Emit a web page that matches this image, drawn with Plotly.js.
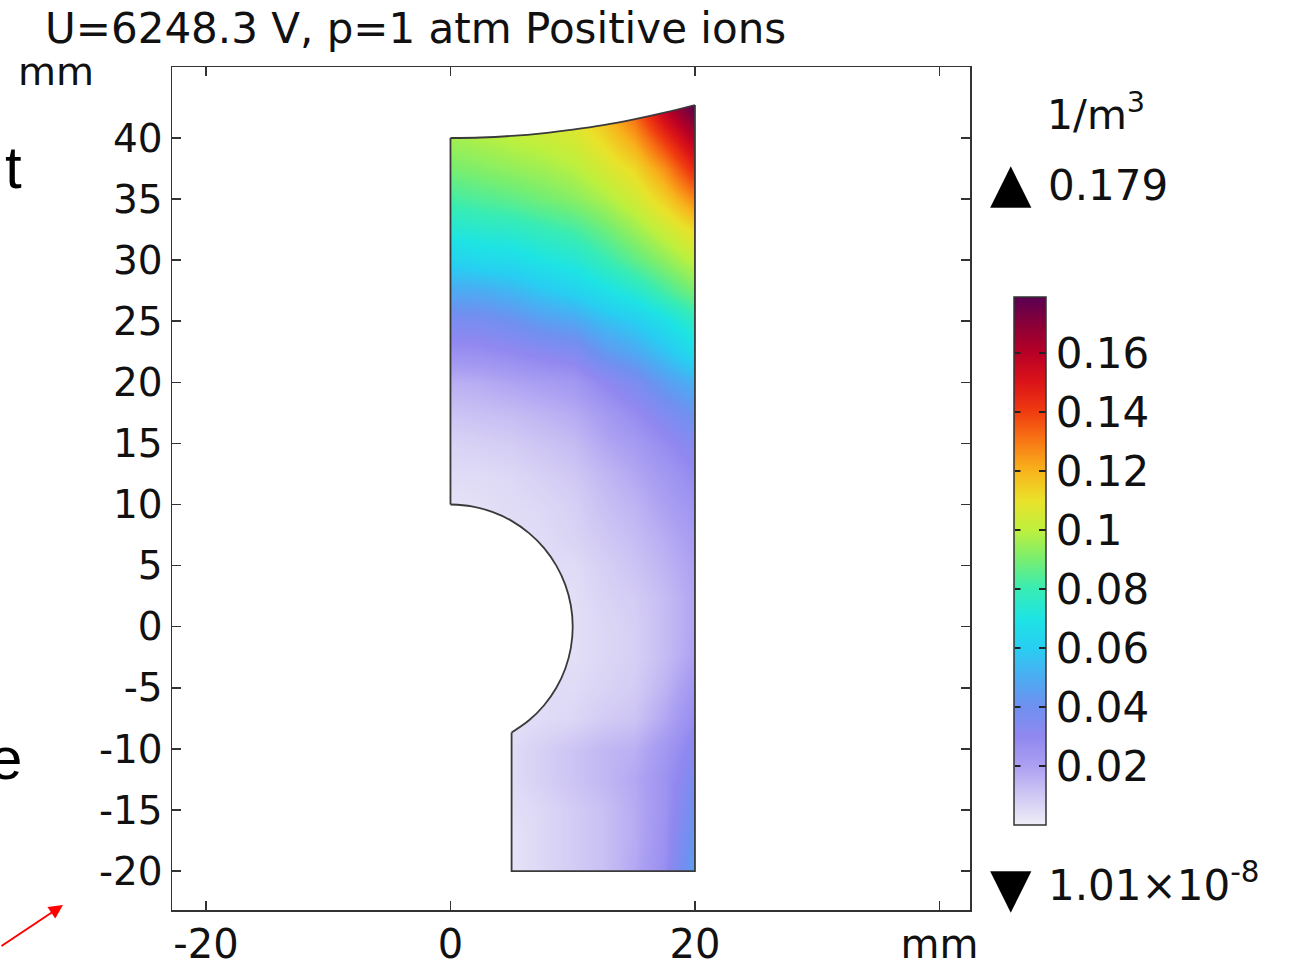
<!DOCTYPE html>
<html><head><meta charset="utf-8">
<script src="https://cdn.plot.ly/plotly-3.0.1.min.js"></script>
<style>html,body{margin:0;padding:0;background:#fff;}#chart{width:1297px;height:966px;}</style>
</head><body><div id="chart"></div>
<script>
// ---- data ----
const gridX = [0, 2.5, 5, 7.5, 10, 12.5, 15, 17.5, 20];
const gridY = [-20, -17.5, -15, -12.5, -10, -7.5, -5, -2.5, 0, 2.5, 5, 7.5, 10, 12.5, 15, 17.5, 20, 22.5, 25, 27.5, 30, 32.5, 35, 37.5, 40, 42.5];
const density = [
  [0.003, 0.003, 0.003, 0.006, 0.009, 0.012, 0.018, 0.027, 0.047],
  [0.003, 0.003, 0.003, 0.006, 0.009, 0.012, 0.017, 0.026, 0.044],
  [0.004, 0.004, 0.004, 0.006, 0.009, 0.012, 0.017, 0.025, 0.041],
  [0.005, 0.005, 0.005, 0.008, 0.011, 0.014, 0.018, 0.025, 0.037],
  [0.005, 0.005, 0.005, 0.008, 0.011, 0.014, 0.016, 0.023, 0.033],
  [0.004, 0.004, 0.004, 0.005, 0.006, 0.009, 0.011, 0.018, 0.028],
  [0.004, 0.004, 0.004, 0.005, 0.005, 0.007, 0.009, 0.015, 0.024],
  [0.004, 0.004, 0.004, 0.005, 0.004, 0.006, 0.008, 0.013, 0.020],
  [0.004, 0.004, 0.004, 0.005, 0.004, 0.006, 0.008, 0.013, 0.019],
  [0.004, 0.004, 0.004, 0.005, 0.004, 0.007, 0.009, 0.013, 0.019],
  [0.004, 0.004, 0.004, 0.005, 0.005, 0.008, 0.011, 0.015, 0.020],
  [0.004, 0.004, 0.004, 0.005, 0.007, 0.010, 0.013, 0.017, 0.022],
  [0.003, 0.004, 0.005, 0.006, 0.008, 0.012, 0.015, 0.020, 0.025],
  [0.005, 0.005, 0.006, 0.008, 0.010, 0.014, 0.018, 0.023, 0.029],
  [0.007, 0.008, 0.009, 0.011, 0.013, 0.018, 0.022, 0.028, 0.034],
  [0.011, 0.012, 0.013, 0.015, 0.017, 0.022, 0.028, 0.035, 0.042],
  [0.016, 0.017, 0.019, 0.021, 0.023, 0.030, 0.036, 0.045, 0.052],
  [0.026, 0.027, 0.029, 0.032, 0.034, 0.043, 0.049, 0.057, 0.067],
  [0.036, 0.037, 0.040, 0.045, 0.048, 0.055, 0.060, 0.068, 0.077],
  [0.049, 0.050, 0.053, 0.058, 0.062, 0.068, 0.074, 0.082, 0.090],
  [0.062, 0.065, 0.066, 0.070, 0.073, 0.079, 0.086, 0.093, 0.101],
  [0.073, 0.075, 0.076, 0.079, 0.082, 0.088, 0.095, 0.103, 0.112],
  [0.082, 0.084, 0.086, 0.089, 0.092, 0.097, 0.104, 0.114, 0.128],
  [0.090, 0.092, 0.094, 0.096, 0.099, 0.105, 0.112, 0.126, 0.146],
  [0.096, 0.098, 0.100, 0.102, 0.105, 0.112, 0.123, 0.142, 0.162],
  [0.098, 0.100, 0.102, 0.105, 0.110, 0.120, 0.135, 0.160, 0.179]
];
// geometry outline (mm)
const boundaryX = [0, 0, 2.5, 5, 7.5, 10, 12.5, 15, 17.5, 20, 20, 5, 5, 6.428, 7.660, 8.660, 9.397, 9.848, 10, 9.848, 9.397, 8.660, 7.660, 6.428, 5.000, 3.420, 1.736, 0];
const boundaryY = [10, 40, 40.04, 40.17, 40.38, 40.68, 41.05, 41.52, 42.07, 42.7, -20, -20, -8.660, -7.660, -6.428, -5.000, -3.420, -1.736, 0, 1.736, 3.420, 5.000, 6.428, 7.660, 8.660, 9.397, 9.848, 10];
// outline pieces: [start index, end index, curved?]
const outlinePieces = [[0, 1, false], [1, 9, true], [9, 12, false], [12, 27, true]];
const colorValues = [0, 0.01, 0.02, 0.03, 0.04, 0.05, 0.06, 0.07, 0.08, 0.09, 0.10, 0.11, 0.12, 0.13, 0.14, 0.15, 0.16, 0.17, 0.179];
const colorHex = ['#f0eef8', '#d0c8f4', '#aca0f2', '#9088f0', '#7090f0', '#4cacf2', '#28cef2', '#1ee4e4', '#38ecb4', '#78ee70', '#bef03e', '#eae22a', '#f8b41c', '#f87814', '#f03c10', '#dc1418', '#b80026', '#880038', '#5a0052'];
const zMin = 0, zMax = 0.179;
const maxLabel = '0.179';
const minLabel = '1.01×10<sup>-8</sup>';
const unitLabel = '1/m<sup>3</sup>';
const titleText = 'U=6248.3 V, p=1 atm Positive ions';
const xTickVals = [-20, 0, 20, 40];
const xTickText = ['-20', '0', '20', 'mm'];
const yTickVals = [-20, -15, -10, -5, 0, 5, 10, 15, 20, 25, 30, 35, 40];
const yTickText = ['-20', '-15', '-10', '-5', '0', '5', '10', '15', '20', '25', '30', '35', '40'];
const cbTickVals = [0.02, 0.04, 0.06, 0.08, 0.10, 0.12, 0.14, 0.16];
const cbTickText = ['0.02', '0.04', '0.06', '0.08', '0.1', '0.12', '0.14', '0.16'];

// ---- build ----
const W = 1297, H = 966;
const M = {l: 172, r: 327, t: 67, b: 56};
const pw = W - M.l - M.r, ph = H - M.t - M.b;
const px2x = p => (p - M.l) / pw;
const py2y = p => (H - M.b - p) / ph;

const colorscale = colorValues.map((v, i) => [v / zMax, colorHex[i]]);

// white mask around the domain: outer rectangle with the domain as a hole
const xL = gridX[0] - 2, xR = gridX[gridX.length - 1] + 2;
const yB = gridY[0] - 2, yT = gridY[gridY.length - 1] + 2;
const maskX = [xL, xL, xR, xR, xL, xL].concat(boundaryX, [xL]);
const maskY = [boundaryY[0], yB, yB, yT, yT, boundaryY[0]].concat(boundaryY, [boundaryY[0]]);

const FONT = 'DejaVu Sans, sans-serif';

// colorbar geometry (pixels)
const cbLeft = 1014, cbBottom = 825, cbThick = 32, cbLen = 528;

const traces = [
  {
    type: 'heatmap', x: gridX, y: gridY, z: density, zsmooth: 'best',
    zmin: zMin, zmax: zMax, colorscale: colorscale, hoverinfo: 'skip',
    colorbar: {
      thickness: cbThick, thicknessmode: 'pixels', len: cbLen, lenmode: 'pixels',
      xref: 'paper', x: px2x(cbLeft), xanchor: 'left', xpad: 0,
      yref: 'paper', y: py2y(cbBottom), yanchor: 'bottom', ypad: 0,
      outlinewidth: 1.5, outlinecolor: '#333',
      ticks: 'inside', ticklen: 7, tickwidth: 2, tickcolor: '#222',
      tickvals: cbTickVals, ticktext: cbTickText,
      tickfont: {family: FONT, size: 42, color: '#111'}
    }
  },
  {
    type: 'scatter', mode: 'lines', x: maskX, y: maskY, fill: 'toself',
    fillcolor: '#ffffff', line: {width: 0, color: 'rgba(0,0,0,0)'},
    hoverinfo: 'skip', showlegend: false
  }
];
outlinePieces.forEach(([a, b, curved]) => {
  traces.push({
    type: 'scatter', mode: 'lines',
    x: boundaryX.slice(a, b + 1), y: boundaryY.slice(a, b + 1),
    line: {color: '#3a3a3a', width: 1.8, shape: curved ? 'spline' : 'linear'},
    hoverinfo: 'skip', showlegend: false
  });
});

// tick marks on the left edge of the colour bar (mirror of the right-side ticks)
const cbTickMarks = cbTickVals.map(v => {
  const yy = py2y(cbBottom) + (v - zMin) / (zMax - zMin) * (cbLen / ph);
  return {xref: 'paper', yref: 'paper', x: px2x(cbLeft + 1), y: yy, text: '',
    showarrow: true, arrowhead: 0, arrowwidth: 2, arrowcolor: '#222',
    ax: 7, ay: 0, standoff: 0, startstandoff: 0};
});

const axisCommon = {
  showgrid: false, zeroline: false, showline: true, linecolor: '#333', linewidth: 1.5,
  mirror: 'ticks', ticks: 'inside', ticklen: 9, tickwidth: 1.5, tickcolor: '#333',
  fixedrange: true
};

const layout = {
  width: W, height: H, margin: M,
  paper_bgcolor: '#fff', plot_bgcolor: '#fff', showlegend: false,
  font: {family: FONT, color: '#111'},
  title: {
    text: titleText, xref: 'container', x: 45 / W, xanchor: 'left',
    yref: 'container', y: 1 - 28 / H, yanchor: 'middle',
    font: {family: FONT, size: 42, color: '#111'}
  },
  xaxis: Object.assign({}, axisCommon, {
    range: [-22.78, 42.5], tickmode: 'array', tickvals: xTickVals, ticktext: xTickText,
    ticklabelstandoff: -2,
    tickfont: {family: FONT, size: 40, color: '#111'}
  }),
  yaxis: Object.assign({}, axisCommon, {
    range: [-23.19, 45.81], tickmode: 'array', tickvals: yTickVals, ticktext: yTickText,
    tickfont: {family: FONT, size: 39, color: '#111'}
  }),
  annotations: [
    {xref: 'paper', yref: 'paper', x: px2x(56), y: py2y(72), text: 'mm', showarrow: false,
     xanchor: 'center', yanchor: 'middle', font: {family: FONT, size: 39, color: '#111'}},
    {xref: 'paper', yref: 'paper', x: px2x(1045), y: py2y(112), text: unitLabel, showarrow: false,
     xanchor: 'left', yanchor: 'middle', font: {family: FONT, size: 41, color: '#111'}},
    {xref: 'paper', yref: 'paper', x: px2x(1011), y: py2y(182), text: '▲', showarrow: false,
     xanchor: 'center', yanchor: 'middle', font: {family: FONT, size: 54, color: '#000'}},
    {xref: 'paper', yref: 'paper', x: px2x(1046), y: py2y(185), text: maxLabel, showarrow: false,
     xanchor: 'left', yanchor: 'middle', font: {family: FONT, size: 42, color: '#111'}},
    {xref: 'paper', yref: 'paper', x: px2x(1011), y: py2y(887), text: '▼', showarrow: false,
     xanchor: 'center', yanchor: 'middle', font: {family: FONT, size: 54, color: '#000'}},
    {xref: 'paper', yref: 'paper', x: px2x(1046), y: py2y(882), text: minLabel, showarrow: false,
     xanchor: 'left', yanchor: 'middle', font: {family: FONT, size: 42, color: '#111'}},
    {xref: 'paper', yref: 'paper', x: px2x(24), y: py2y(168), text: 't', showarrow: false,
     xanchor: 'right', yanchor: 'middle', font: {family: 'Liberation Sans, Arial, sans-serif', size: 60, color: '#000'}},
    {xref: 'paper', yref: 'paper', x: px2x(24), y: py2y(758), text: 'e', showarrow: false,
     xanchor: 'right', yanchor: 'middle', font: {family: 'Liberation Sans, Arial, sans-serif', size: 60, color: '#000'}},
    {xref: 'paper', yref: 'paper', x: px2x(63), y: py2y(905), text: '', showarrow: true,
     ax: -66, ay: 42, arrowcolor: '#ff0000', arrowwidth: 2, arrowhead: 2, arrowsize: 1.4}
  ].concat(cbTickMarks)
};

Plotly.newPlot('chart', traces, layout, {displayModeBar: false, staticPlot: true});
</script>
</body></html>
